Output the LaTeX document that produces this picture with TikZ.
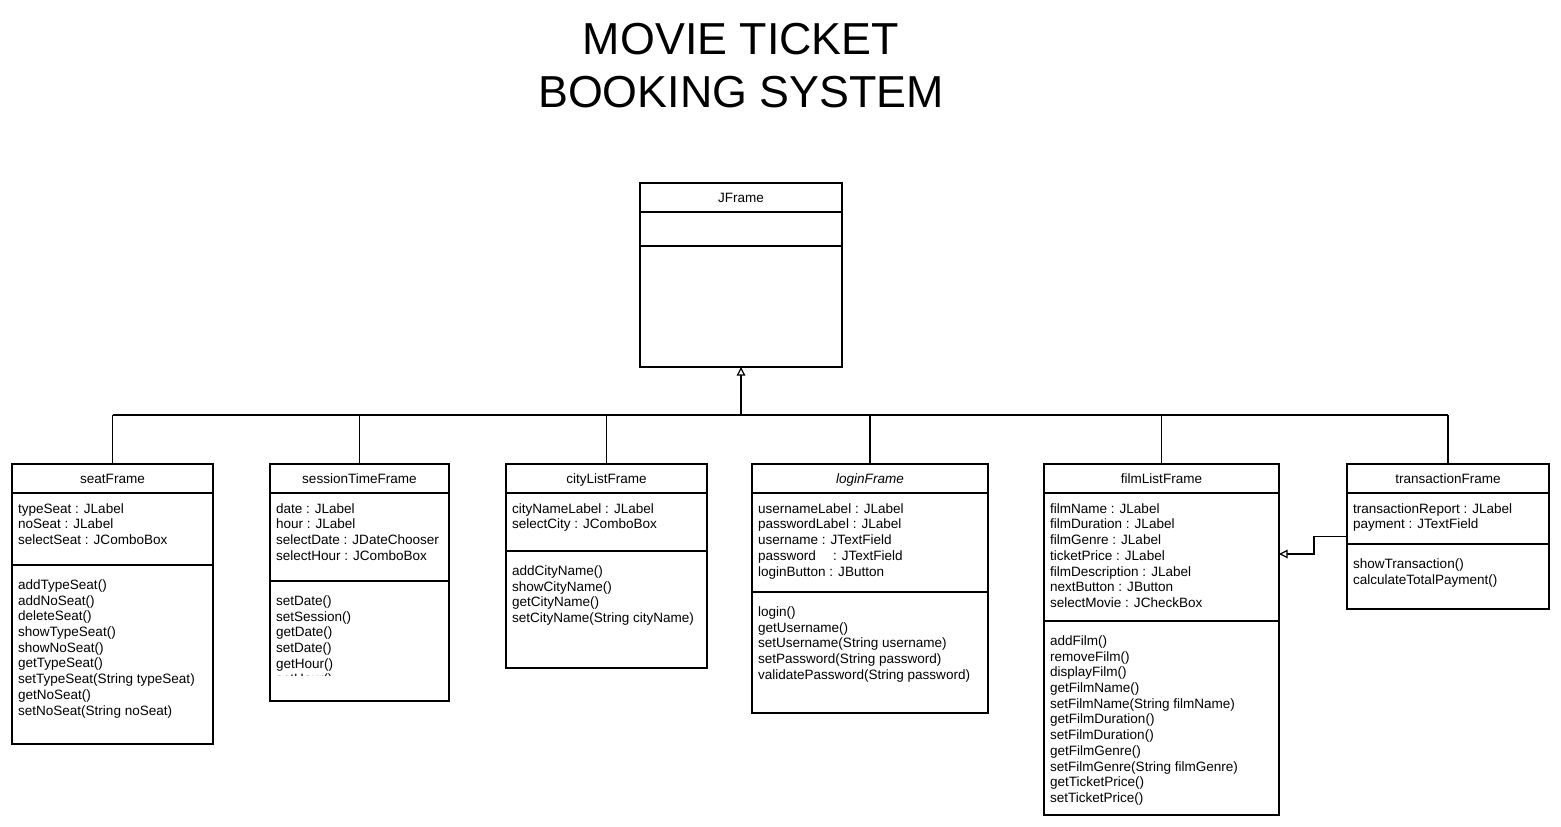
\documentclass[tikz,border=0pt]{standalone}
\usepackage{fontspec}
\setmainfont{Liberation Sans}
\usetikzlibrary{arrows.meta,calc}
\tikzset{
  classbox/.style={draw, line width=0.9pt, inner sep=0pt, outer sep=0pt, fill=white},
  sepline/.style={line width=0.9pt},
  txt/.style={inner sep=0pt, outer sep=0pt, align=left, font=\fontsize{10.15}{11.8}\selectfont},
  ttl/.style={inner sep=0pt, outer sep=0pt, anchor=base, font=\fontsize{10.15}{11.8}\selectfont},
  conn/.style={line width=0.9pt},
  inh/.style={line width=0.9pt, -{Triangle[open, length=6.5pt, width=6.5pt]}},
}
\newcommand\umlclass[9]{%
  \node[classbox, minimum width=#4*0.75pt, minimum height=#5*0.75pt, anchor=north west] (#1) at (#2,#3) {};
  \draw[sepline] ($(#1.north west)+(0,29)$) -- ++(#4,0);
  \draw[sepline] ($(#1.north west)+(0,#6)$) -- ++(#4,0);
  \node[ttl] (#1-t) at ($(#1.north)+(0,19.2)$) {#7};
  \node[txt, anchor=north west] (#1-a) at ($(#1.north west)+(6,39.3)$) {#8};
  \node[txt, anchor=north west] (#1-m) at ($(#1.north west)+(6,#6+14.5)$) {#9};
}
\begin{document}
\begin{tikzpicture}[x=0.75pt, y=-0.75pt]
\useasboundingbox (0,0) rectangle (1561,827);
% title
\node[inner sep=0pt, align=center, font=\fontsize{33.6}{39.75}\selectfont] (title) at (741,66) {MOVIE TICKET\\BOOKING SYSTEM};

\umlclass{jframe}{640}{183}{202}{184}{63}{JFrame}{}{}
\umlclass{seat}{12}{464}{201}{280}{101}{seatFrame}{typeSeat : JLabel\\noSeat : JLabel\\selectSeat : JComboBox}{addTypeSeat()\\addNoSeat()\\deleteSeat()\\showTypeSeat()\\showNoSeat()\\getTypeSeat()\\setTypeSeat(String typeSeat)\\getNoSeat()\\setNoSeat(String noSeat)}
\umlclass{session}{270}{464}{179}{237}{117}{sessionTimeFrame}{date : JLabel\\hour : JLabel\\selectDate : JDateChooser\\selectHour : JComboBox}{}
\begin{scope}
  \clip (270,581) rectangle (449,675);
  \node[txt, anchor=north west] (session-m) at ($(session.north west)+(6,131.5)$) {setDate()\\setSession()\\getDate()\\setDate()\\getHour()\\setHour()};
\end{scope}
\umlclass{city}{506}{464}{201}{204}{87}{cityListFrame}{cityNameLabel : JLabel\\selectCity : JComboBox}{addCityName()\\showCityName()\\getCityName()\\setCityName(String cityName)}
\umlclass{login}{752}{464}{236}{249}{128}{\itshape loginFrame}{usernameLabel : JLabel\\passwordLabel : JLabel\\username : JTextField\\password\hspace{10pt} : JTextField\\loginButton : JButton}{login()\\getUsername()\\setUsername(String username)\\setPassword(String password)\\validatePassword(String password)}
\umlclass{film}{1044}{464}{235}{351}{157}{filmListFrame}{filmName : JLabel\\filmDuration : JLabel\\filmGenre : JLabel\\ticketPrice : JLabel\\filmDescription : JLabel\\nextButton : JButton\\selectMovie : JCheckBox}{addFilm()\\removeFilm()\\displayFilm()\\getFilmName()\\setFilmName(String filmName)\\getFilmDuration()\\setFilmDuration()\\getFilmGenre()\\setFilmGenre(String filmGenre)\\getTicketPrice()\\setTicketPrice()}
\umlclass{trans}{1347}{464}{202}{145}{80}{transactionFrame}{transactionReport : JLabel\\payment : JTextField}{showTransaction()\\calculateTotalPayment()}

% inheritance bus
\coordinate (bus) at (0,415);
\draw[conn] (seat.north |- bus) -- (trans.north |- bus);
\foreach \c in {seat,session,city,login,film,trans}{
  \draw[conn] (\c.north) -- (\c.north |- bus);
}
\draw[inh] (jframe.south |- bus) -- (jframe.south);
% transaction -> filmList
\coordinate (filmin) at (1279,554);
\draw[inh] (trans.west) -- ++(-33,0) |- (filmin);
\end{tikzpicture}
\end{document}
